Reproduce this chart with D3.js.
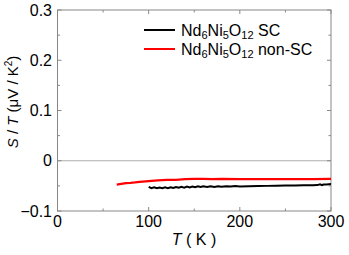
<!DOCTYPE html>
<html><head><meta charset="utf-8">
<script src="https://cdn.jsdelivr.net/npm/d3@7"></script>
<style>body{margin:0;background:#fff}svg{display:block}text{font-family:"Liberation Sans",Arial,sans-serif}</style>
</head><body><svg id="c" width="349" height="255"></svg>
<script>
const xTicks=[0,100,200,300];
const yTicks=[-0.1,0,0.1,0.2,0.3];
const seriesNames=["SC","non-SC"];
const colors=["#000000","#ff0000"];
// SC (black) wavy data
const scT=[100,103,106,109,112,115,118,121,124,127,130,133,136,139,142,145,148,151,154,157,160,164,168,172,176,180,185,190,195,200,210,220,230,240,250,260,270,280,285,288,290,292,295,300];
const scV=[-0.052,-0.0545,-0.053,-0.0548,-0.0532,-0.0546,-0.053,-0.0545,-0.0528,-0.0542,-0.0522,-0.0538,-0.052,-0.0535,-0.0515,-0.053,-0.0512,-0.0528,-0.0508,-0.0524,-0.0508,-0.0522,-0.0508,-0.052,-0.0506,-0.0516,-0.0506,-0.0514,-0.0504,-0.051,-0.0505,-0.0503,-0.05,-0.0498,-0.0495,-0.0494,-0.049,-0.0488,-0.0485,-0.0468,-0.0484,-0.0472,-0.0472,-0.0465];
const nscT=[65,70,75,80,85,90,100,110,120,130,140,150,160,170,180,200,220,240,260,280,300];
const nscV=[-0.0475,-0.046,-0.0445,-0.044,-0.0432,-0.042,-0.0405,-0.039,-0.038,-0.038,-0.0365,-0.036,-0.036,-0.0365,-0.036,-0.0365,-0.0365,-0.0365,-0.0365,-0.0365,-0.036];

const svg=d3.select("#c");
const L=57.5,R=331,T=10,B=211;
const x=d3.scaleLinear().domain([0,300]).range([L,R]);
const y=d3.scaleLinear().domain([-0.1,0.3]).range([B,T]);
const ax="#888";
// zero dotted line
svg.append("line").attr("x1",L).attr("x2",R).attr("y1",y(0)).attr("y2",y(0)).attr("stroke","#333").attr("stroke-width",0.8).attr("stroke-dasharray","1,1");
// frame
svg.append("rect").attr("x",L).attr("y",T).attr("width",R-L).attr("height",B-T).attr("fill","none").attr("stroke",ax).attr("stroke-width",1);
// ticks
const xMinor=d3.range(0,301,50), yMinor=d3.range(-0.1,0.3001,0.05);
const tk=svg.append("g").attr("stroke",ax).attr("stroke-width",1);
xMinor.forEach(v=>{const len=(v%100===0)?4:2.5;
  tk.append("line").attr("x1",x(v)).attr("x2",x(v)).attr("y1",B).attr("y2",B-len);
  tk.append("line").attr("x1",x(v)).attr("x2",x(v)).attr("y1",T).attr("y2",T+len);});
yMinor.forEach((v,i)=>{const len=(i%2===0)?4:2.5;
  tk.append("line").attr("y1",y(v)).attr("y2",y(v)).attr("x1",L).attr("x2",L+len);
  tk.append("line").attr("y1",y(v)).attr("y2",y(v)).attr("x1",R).attr("x2",R-len);});
// tick labels
svg.append("g").selectAll("text").data(xTicks).join("text").attr("x",d=>x(d)).attr("y",227).attr("text-anchor","middle").attr("font-size",16).text(d=>d);
svg.append("g").selectAll("text").data(yTicks).join("text").attr("x",52).attr("y",d=>y(d)+5.5).attr("text-anchor","end").attr("font-size",16).text(d=>d===0?"0":d3.format(".1f")(d));
// axis titles
const xt=svg.append("text").attr("x",194).attr("y",245).attr("text-anchor","middle").attr("font-size",16);
xt.append("tspan").attr("font-style","italic").text("T");xt.append("tspan").text(" ( K )");
const yt=svg.append("text").attr("transform","translate(18,102) rotate(-90)").attr("text-anchor","middle").attr("font-size",15);
yt.append("tspan").attr("font-style","italic").text("S");yt.append("tspan").text(" / ");
yt.append("tspan").attr("font-style","italic").text("T");yt.append("tspan").text(" (μV / K");
yt.append("tspan").attr("font-size",10).attr("dy",-6).text("2");yt.append("tspan").attr("dy",6).text(")");
// lines
const line=d3.line().x(d=>x(d[0])).y(d=>y(d[1]));
svg.append("path").datum(scT.map((t,i)=>[t,scV[i]])).attr("d",line).attr("fill","none").attr("stroke",colors[0]).attr("stroke-width",2);
svg.append("path").datum(nscT.map((t,i)=>[t,nscV[i]])).attr("d",line).attr("fill","none").attr("stroke",colors[1]).attr("stroke-width",2.3);
// legend
const lg=[{c:colors[0],n:seriesNames[0],y:30},{c:colors[1],n:seriesNames[1],y:49}];
lg.forEach(d=>{
  svg.append("line").attr("x1",144).attr("x2",175).attr("y1",d.y).attr("y2",d.y).attr("stroke",d.c).attr("stroke-width",2);
  const t=svg.append("text").attr("x",181).attr("y",d.y+5.5).attr("font-size",16);
  t.append("tspan").text("Nd");t.append("tspan").attr("font-size",11).attr("dy",3).text("6");
  t.append("tspan").attr("dy",-3).text("Ni");t.append("tspan").attr("font-size",11).attr("dy",3).text("5");
  t.append("tspan").attr("dy",-3).text("O");t.append("tspan").attr("font-size",11).attr("dy",3).text("12");
  t.append("tspan").attr("dy",-3).text(" "+d.n);
});
</script></body></html>
